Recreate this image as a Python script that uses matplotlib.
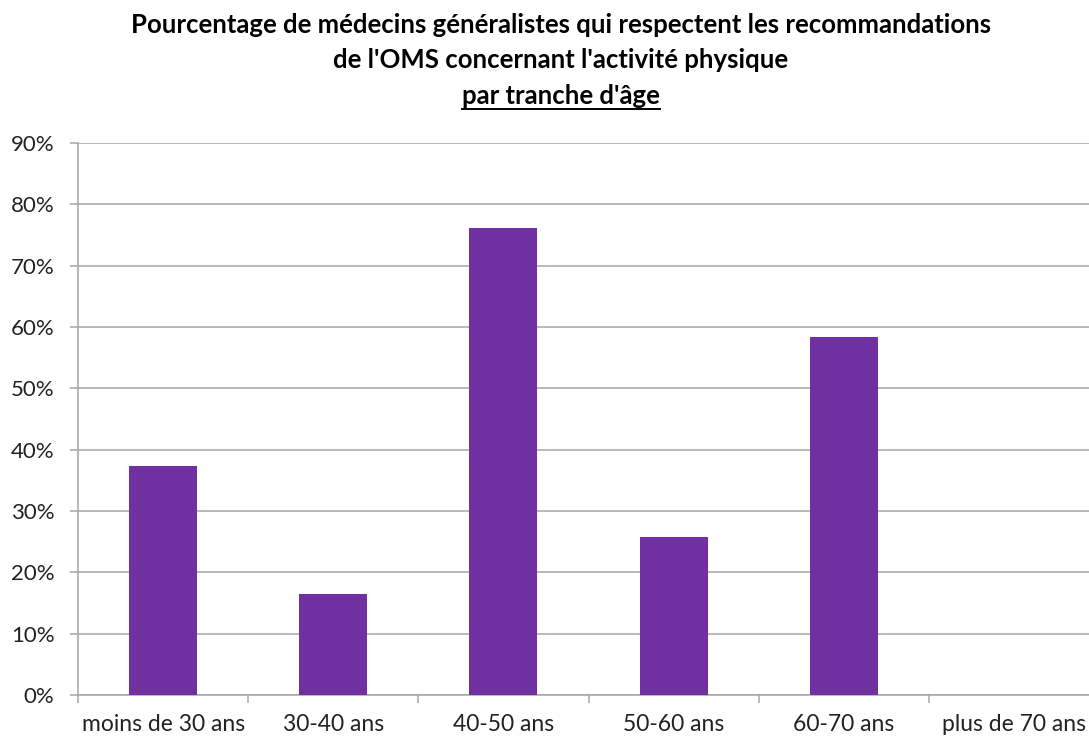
# -*- coding: utf-8 -*-
import matplotlib
matplotlib.use('Agg')
import matplotlib.pyplot as plt
from matplotlib.lines import Line2D
import numpy as np

plt.rcParams['font.family'] = ['Lato', 'DejaVu Sans']

# data
categories = ['moins de 30 ans', '30-40 ans', '40-50 ans', '50-60 ans', '60-70 ans', 'plus de 70 ans']
values = [37.4, 16.5, 76.2, 25.8, 58.4, 0.0]

bar_color = '#7030a0'
grid_color = '#a6a6a6'

fig = plt.figure(figsize=(10.89, 7.38), dpi=100, facecolor='white')
ax = fig.add_axes([78 / 1089, 43 / 738, 1021 / 1089, 552 / 738])

ind = np.arange(len(categories))
ax.bar(ind, values, 0.4, color=bar_color, zorder=3)

ax.set_xlim(-0.5, len(categories) - 0.5)
ax.set_ylim(0, 90)
ax.set_yticks(np.arange(0, 91, 10))
ax.set_yticklabels(['%d%%' % v for v in range(0, 91, 10)], fontsize=16, color='#222222')
ax.yaxis.grid(True, color=grid_color, linewidth=1.1, zorder=0)

ax.set_xticks(ind)
ax.set_xticklabels(categories, fontsize=16.5, color='#222222')
ax.tick_params(axis='x', length=0, pad=14)
ax.set_xticks(np.arange(-0.5, len(categories), 1), minor=True)
ax.tick_params(axis='x', which='minor', length=6, color=grid_color, width=1.1)
ax.tick_params(axis='y', length=6, color=grid_color, width=1.1, pad=11)

for s in ['top', 'right']:
    ax.spines[s].set_visible(False)
for s in ['left', 'bottom']:
    ax.spines[s].set_color(grid_color)
    ax.spines[s].set_linewidth(1.1)

# title (three lines, last underlined)
t_kw = dict(ha='center', va='center', fontsize=18.5, fontweight='bold', color='black')
fig.text(0.515, 1 - 25 / 738, "Pourcentage de médecins généralistes qui respectent les recommandations", **t_kw)
fig.text(0.515, 1 - 60 / 738, "de l'OMS concernant l'activité physique", **t_kw)
t3 = fig.text(0.515, 1 - 96 / 738, "par tranche d'âge", **t_kw)

fig.canvas.draw()
bb = t3.get_window_extent().transformed(fig.transFigure.inverted())
fig.add_artist(Line2D([bb.x0, bb.x1], [bb.y0 - 0.002, bb.y0 - 0.002],
                      transform=fig.transFigure, color='black', linewidth=1.4))

fig.savefig('out.png', dpi=100)
